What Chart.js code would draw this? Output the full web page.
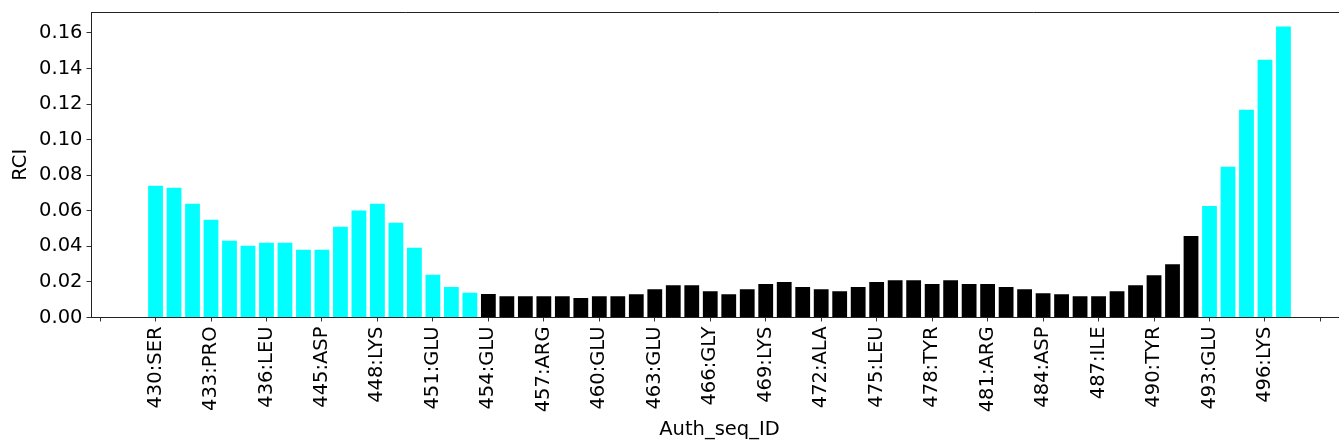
<!DOCTYPE html>
<html>
<head>
<meta charset="utf-8">
<script src="https://cdn.jsdelivr.net/npm/chart.js@4.4.1/dist/chart.umd.min.js"></script>
<style>
html,body{margin:0;padding:0;background:#fff;overflow:hidden;}
#wrap{width:1360px;height:447px;}
</style>
</head>
<body>
<div id="wrap"><canvas id="c" width="1360" height="447"></canvas></div>
<script>
// Residue numbers (Auth_seq_ID), one per bar
const residues = [430,431,432,433,434,435,436,437,438,
  445,446,447,448,449,450,451,452,453,454,455,456,457,458,459,460,461,462,463,464,465,
  466,467,468,469,470,471,472,473,474,475,476,477,478,479,480,481,482,483,484,485,486,
  487,488,489,490,491,492,493,494,495,496,497];
// RCI values
const rci = [0.0741,0.0730,0.0640,0.0550,0.0432,0.0403,0.0420,0.0420,0.0381,
  0.0381,0.0510,0.0601,0.0640,0.0533,0.0392,0.0240,0.0172,0.0139,0.0132,0.0120,0.0120,0.0120,0.0120,0.0109,0.0120,0.0120,0.0131,0.0159,0.0182,0.0182,
  0.0148,0.0131,0.0159,0.0188,0.0199,0.0171,0.0159,0.0148,0.0171,0.0199,0.0210,0.0210,0.0188,0.0210,0.0188,0.0188,0.0171,0.0159,0.0137,0.0131,0.0120,
  0.0120,0.0148,0.0182,0.0238,0.0300,0.0458,0.0627,0.0847,0.1168,0.1450,0.1636];
// 1 = highlighted (flexible) residue, 0 = other
const flexible = [1,1,1,1,1,1,1,1,1,
  1,1,1,1,1,1,1,1,1,0,0,0,0,0,0,0,0,0,0,0,0,
  0,0,0,0,0,0,0,0,0,0,0,0,0,0,0,0,0,0,0,0,0,
  0,0,0,0,0,0,1,1,1,1,1];
// x tick labels (every third bar)
const tickLabels = ["430:SER","433:PRO","436:LEU","445:ASP","448:LYS","451:GLU","454:GLU","457:ARG",
  "460:GLU","463:GLU","466:GLY","469:LYS","472:ALA","475:LEU","478:TYR","481:ARG","484:ASP",
  "487:ILE","490:TYR","493:GLU","496:LYS"];
const yTicks = [0,0.02,0.04,0.06,0.08,0.10,0.12,0.14,0.16];

const FONT = "DejaVu Sans";
const n = residues.length;
const step = 3;
const xTickVals = [];
for (let v = -step; v <= n + 1; v += step) xTickVals.push(v);

const frame = {
  id:'frame',
  afterDraw(chart){
    const {ctx, chartArea:a} = chart;
    ctx.save();
    ctx.strokeStyle = '#222';
    ctx.lineWidth = 1;
    ctx.beginPath();
    ctx.moveTo(a.left, a.top+0.5); ctx.lineTo(a.right, a.top+0.5);
    ctx.stroke();
    ctx.restore();
  }
};

new Chart(document.getElementById('c'), {
  type: 'bar',
  data: {
    datasets: [{
      data: rci.map((v,i)=>({x:i, y:v})),
      backgroundColor: flexible.map(f => f ? '#00ffff' : '#000000'),
      borderWidth: 0,
      barPercentage: 0.8,
      categoryPercentage: 1.0
    }]
  },
  plugins: [frame],
  options: {
    responsive: false,
    animation: false,
    devicePixelRatio: 1,
    layout: {padding: {top: 12, right: 12, left: 0, bottom: 0}},
    plugins: {legend: {display:false}, tooltip: {enabled:false}},
    scales: {
      x: {
        type: 'linear',
        offset: false,
        min: -0.4 - 0.05*(n - 0.2),
        max: n - 0.6 + 0.05*(n - 0.2),
        afterBuildTicks: s => { s.ticks = xTickVals.map(v => ({value:v})); },
        afterFit: s => { s.height = 129.5; },
        grid: {offset:false, drawOnChartArea:false, drawTicks:true, tickLength:4, color:'#333', tickWidth:1},
        border: {display:true, color:'#222', width:1},
        ticks: {
          autoSkip: false,
          minRotation: 90, maxRotation: 90,
          padding: 5,
          color: '#000',
          font: {family: FONT, size: 19.5},
          callback: v => (v >= 0 && v % step === 0 && tickLabels[v/step]) ? tickLabels[v/step] : ''
        },
        title: {display:true, text:'Auth_seq_ID', color:'#000',
          font:{family:FONT, size:19.5}, padding:{top:0,bottom:5}}
      },
      y: {
        min: 0,
        max: 0.1636 * 1.05,
        afterBuildTicks: s => { s.ticks = yTicks.map(v => ({value:v})); },
        afterFit: s => { s.width = 91; },
        grid: {offset:false, drawOnChartArea:false, drawTicks:true, tickLength:4.5, color:'#333', tickWidth:1},
        border: {display:true, color:'#222', width:1},
        ticks: {
          padding: 4,
          color: '#000',
          font: {family: FONT, size: 19.5, lineHeight: 0.8},
          callback: v => v.toFixed(2)
        },
        title: {display:true, text:'RCI', color:'#000',
          font:{family:FONT, size:19.5}, padding:{top:9,bottom:0}}
      }
    }
  }
});
</script>
</body>
</html>
